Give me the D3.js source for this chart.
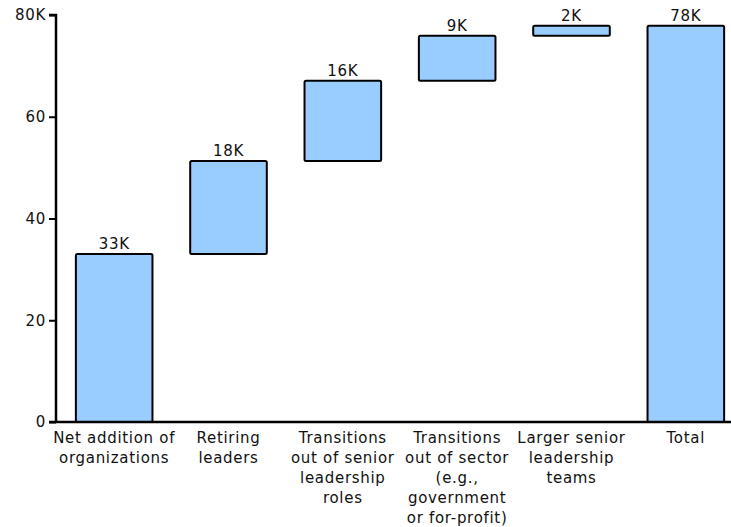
<!DOCTYPE html>
<html><head><meta charset="utf-8">
<script src="https://cdn.jsdelivr.net/npm/d3@7"></script>
<style>body{margin:0;background:#fff}text{font-family:"DejaVu Sans",Verdana,sans-serif;letter-spacing:0.7px}</style>
</head><body>
<svg id="c" width="731" height="527"></svg>
<script>
const categories = [
  ["Net addition of","organizations"],
  ["Retiring","leaders"],
  ["Transitions","out of senior","leadership","roles"],
  ["Transitions","out of sector","(e.g.,","government","or for-profit)"],
  ["Larger senior","leadership","teams"],
  ["Total"]
];
const starts = [0, 33, 51.3, 67.1, 75.9, 0];
const ends   = [33, 51.3, 67.1, 75.9, 77.9, 77.9];
const valueLabels = ["33K","18K","16K","9K","2K","78K"];
const yTicks = [0,20,40,60,80];
const yTickLabels = ["0","20","40","60","80K"];

const svg = d3.select("#c");
const x = d3.scaleBand().domain(d3.range(categories.length)).range([57, 743]).paddingInner(0.33).paddingOuter(0.165);
const y = d3.scaleLinear().domain([0,80]).range([422, 15]);

// bars
svg.append("g").selectAll("rect").data(d3.range(categories.length)).join("rect")
  .attr("x", i => x(i)).attr("width", x.bandwidth())
  .attr("y", i => y(Math.max(starts[i], ends[i])))
  .attr("height", i => Math.abs(y(starts[i]) - y(ends[i])))
  .attr("rx", 1.5)
  .attr("fill", "#99CCFF").attr("stroke", "#000").attr("stroke-width", 2);

// value labels
svg.append("g").selectAll("text").data(d3.range(categories.length)).join("text")
  .attr("x", i => x(i) + x.bandwidth()/2)
  .attr("y", i => y(Math.max(starts[i], ends[i])) - 5)
  .attr("text-anchor", "middle").attr("font-size", 15).attr("fill", "#111")
  .text(i => valueLabels[i]);

// y axis
const yAxis = d3.axisLeft(y).tickValues(yTicks).tickFormat((d,i) => yTickLabels[i]).tickSize(7).tickPadding(3);
const gy = svg.append("g").attr("transform", "translate(56,0)").call(yAxis);
gy.select(".domain").attr("stroke-width", 2.5).attr("d", "M-7,15H0V422");
gy.selectAll(".tick line").attr("stroke-width", 2);
gy.selectAll(".tick text").attr("font-size", 15).attr("fill", "#111").attr("font-family", "DejaVu Sans, Verdana, sans-serif");

// x axis line
svg.append("line").attr("x1", 49).attr("x2", 731).attr("y1", y(0)).attr("y2", y(0))
  .attr("stroke", "#000").attr("stroke-width", 2.5);

// category labels
const gx = svg.append("g");
categories.forEach((lines, i) => {
  const t = gx.append("text").attr("text-anchor", "middle").attr("font-size", 15).attr("fill", "#111")
    .attr("x", x(i) + x.bandwidth()/2).attr("y", 443);
  lines.forEach((l, j) => t.append("tspan").attr("x", x(i) + x.bandwidth()/2).attr("dy", j ? 20 : 0).text(l));
});
</script>
</body></html>
